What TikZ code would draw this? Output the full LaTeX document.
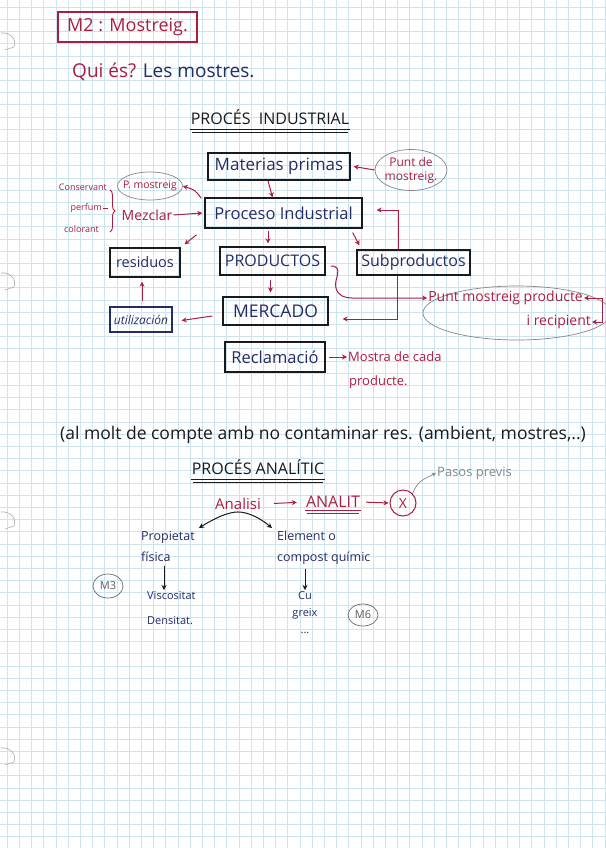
\documentclass[tikz,border=0pt]{standalone}
\usepackage{fontspec}
\setmainfont{Open Sans}
\usetikzlibrary{arrows.meta,shapes.geometric,calc,decorations.pathreplacing}
\definecolor{inkred}{RGB}{170,30,65}
\definecolor{inkblue}{RGB}{35,45,100}
\definecolor{inkblack}{RGB}{25,25,30}
\definecolor{pencil}{RGB}{135,135,135}
\definecolor{gridc}{RGB}{205,227,238}
\newcommand{\fsz}[2]{\fontsize{#1}{#2}\selectfont}
\begin{document}
\begin{tikzpicture}[x=1pt,y=-1pt,
  ibox/.style={draw=inkblack, line width=1.3pt, inner sep=0pt, text=inkblue, font=\fsz{16.5}{19}},
  redtxt/.style={text=inkred, inner sep=1pt},
  bluetxt/.style={text=inkblue, inner sep=1pt},
  rarr/.style={draw=inkred, line width=1pt, -{Stealth[length=5pt,width=5pt]}},
  karr/.style={draw=inkblack, line width=1pt, -{Stealth[length=5pt,width=5pt]}},
  parr/.style={draw=pencil, line width=0.7pt, -{Stealth[length=4pt,width=4pt]}},
  pell/.style={ellipse, draw=pencil, line width=0.7pt, inner sep=0pt},
]
\fill[white] (0,0) rectangle (605,848);
\useasboundingbox (0,0) rectangle (605,848);
\foreach \i in {0,...,49} {\draw[gridc, line width=0.5pt] ({7+12.2*\i},0) -- ({7+12.2*\i},848);}
\foreach \j in {0,...,68} {\draw[gridc, line width=0.5pt] (0,{7+12.2*\j}) -- (605,{7+12.2*\j});}
% punch-hole marks
\foreach \yy in {33,273,512,748} {
  \draw[pencil!70, line width=0.6pt] (1,\yy) .. controls (10,{\yy-1}) and (17,{\yy+6}) .. (14,{\yy+14}) -- (5,{\yy+17});
}

% title
\node[draw=inkred, line width=1.1pt, minimum width=139pt, minimum height=30pt, text=inkred, font=\fsz{18}{20}] (title) at (127.5,27) {M2 : Mostreig.};
\node[anchor=west, font=\fsz{19}{22}, inner sep=0pt] (qui) at (72,72) {\textcolor{inkred}{Qui és?} \textcolor{inkblue}{Les mostres.}};

% PROCES INDUSTRIAL
\node[font=\fsz{16}{18}, text=inkblack, inner sep=0pt] (pi) at (270,117) {PROCÉS\ \ INDUSTRIAL};
\draw[inkblack, line width=0.9pt] ($(pi.south west)+(-1,5)$) -- ($(pi.south east)+(1,5)$);
\draw[inkblack, line width=0.9pt] ($(pi.south west)+(1,8)$) -- ($(pi.south east)+(-1,8)$);

% boxes
\node[ibox, minimum width=142pt, minimum height=27pt, font=\fsz{17}{19}] (mat) at (279,166.5) {Materias primas};
\node[ibox, minimum width=157pt, minimum height=30pt] (proc) at (283.5,213) {Proceso Industrial};
\node[ibox, minimum width=70pt, minimum height=29pt, font=\fsz{14.5}{17}] (res) at (145,262.5) {residuos};
\node[ibox, minimum width=105pt, minimum height=28pt, font=\fsz{16}{18}] (prod) at (272.5,261) {PRODUCTOS};
\node[ibox, minimum width=113pt, minimum height=25pt, font=\fsz{16}{18}] (sub) at (413.5,262.5) {Subproductos};
\node[ibox, minimum width=105pt, minimum height=28pt, font=\fsz{17.5}{19}] (merc) at (275.5,311) {MERCADO};
\node[ibox, draw=inkblue, minimum width=62pt, minimum height=25pt, font=\fsz{12}{14}\itshape] (util) at (141,319.5) {utilización};
\node[ibox, minimum width=100pt, minimum height=30pt] (recl) at (275,357) {Reclamació};

% annotations
\node[pell, minimum width=72pt, minimum height=41pt] (pdm) at (411,170) {};
\node[redtxt, align=center, font=\fsz{12}{14}] (pdmt) at (411,170) {Punt de\\mostreig.};
\draw[rarr] (pdm.west) -- ([xshift=3pt]mat.east);

\node[pell, minimum width=65pt, minimum height=28pt] (pm) at (150,186) {};
\node[redtxt, font=\fsz{10.5}{12}] (pmt) at (150,186) {P. mostreig};
\draw[rarr] ($(proc.north west)+(-3,1)$) .. controls (195,190) .. (pm.east);

\node[redtxt, font=\fsz{14}{16}] (mez) at (147,215) {Mezclar};
\draw[rarr] (mez.east) -- ([xshift=-2pt]proc.west);
\node[redtxt, font=\fsz{9}{11}, anchor=east] (c1) at (108,187) {Conservant};
\node[redtxt, font=\fsz{9}{11}, anchor=east] (c2) at (103,208) {perfum};
\node[redtxt, font=\fsz{9}{11}, anchor=east] (c3) at (100,229) {colorant};
\draw[inkred, line width=0.9pt] (c2.east) -- ++(5,0);
\draw[inkred, line width=0.9pt, decorate, decoration={brace, amplitude=5pt}] (110,190) -- (110,232);

% arrows of the industrial process
\draw[rarr] ([xshift=-11pt]mat.south) -- ([xshift=-11pt]proc.north);
\draw[rarr, shorten <=2pt, shorten >=3pt] ([xshift=-15.5pt]proc.south) -- ([xshift=-4.5pt]prod.north);
\draw[rarr, shorten <=10pt, shorten >=5pt] (proc.south west) -- (res.north east);
\draw[rarr] ($(proc.south east)+(-10,4)$) -- ($(sub.north west)+(3,-4)$);
\draw[rarr] ($(sub.north)+(-15,0)$) |- ($(proc.east)+(14,-3)$);
\draw[rarr, shorten <=4pt, shorten >=4pt] ([xshift=-2pt]prod.south) -- ([xshift=-5pt]merc.north);
\draw[rarr] ($(merc.west)+(-10,5)$) -- ($(util.east)+(9,1)$);
\draw[rarr, shorten <=5pt, shorten >=4pt] ([xshift=1pt]util.north) -- ([xshift=-3pt]res.south);

% punt mostreig producte
\draw[pencil, line width=0.7pt] (517,313) ellipse (94 and 27);
\node[redtxt, font=\fsz{14}{16}, anchor=east] (pmp1) at (584,298) {Punt mostreig producte};
\node[redtxt, font=\fsz{14}{16}, anchor=east] (pmp2) at (592,322) {i recipient};
\draw[rarr] ($(prod.east)+(5,5)$) .. controls (345,266) and (333,280) .. (336,288)
  .. controls (338,296) and (345,298) .. (352,298) -- (pmp1.west);
\draw[rarr] ($(sub.south)+(-16,0)$) |- ($(merc.east)+(14,8)$);
\draw[draw=inkred, line width=1pt, {Stealth[length=5pt,width=5pt]}-{Stealth[length=5pt,width=5pt]}]
  (pmp1.east) -- ++(18,0) |- (pmp2.east);

% reclamacio
\node[redtxt, font=\fsz{13}{15}, anchor=west] (mos1) at (347,357) {Mostra de cada};
\node[redtxt, font=\fsz{13}{15}, anchor=west] (mos2) at (348,382) {producte.};
\draw[rarr] ([xshift=3pt]recl.east) -- (mos1.west);

% comment
\node[font=\fsz{17.5}{20}, text=inkblack, anchor=west, inner sep=0pt] (com) at (60,435)
  {(al molt de compte amb no contaminar res. (ambient, mostres,..)};

% PROCES ANALITIC
\node[font=\fsz{16}{18}, text=inkblack, inner sep=0pt] (pa) at (258,467) {PROCÉS ANALÍTIC};
\draw[inkblack, line width=0.9pt] ($(pa.south west)+(-1,5)$) -- ($(pa.south east)+(1,5)$);
\draw[inkblack, line width=0.9pt] ($(pa.south west)+(1,8)$) -- ($(pa.south east)+(-1,8)$);

\node[redtxt, font=\fsz{15}{17}] (ana) at (238,504) {Analisi};
\node[redtxt, font=\fsz{16}{18}] (analit) at (333,502) {ANALIT};
\draw[inkred, line width=1pt] ($(analit.south west)+(0,2)$) -- ($(analit.south east)+(0,2)$);
\draw[inkred, line width=1pt] ($(analit.south west)+(2,5)$) -- ($(analit.south east)+(-2,5)$);
\node[circle, draw=inkred, line width=1pt, minimum size=26pt, inner sep=0pt, text=inkred, font=\fsz{14}{16}] (xc) at (403,503) {X};
\draw[rarr, shorten <=12pt, shorten >=8pt] (ana.east) -- (analit.west);
\draw[rarr, shorten <=5pt, shorten >=1pt] (analit.east) -- (xc.west);
\node[text=pencil, font=\fsz{13}{15}, anchor=west, inner sep=1pt] (pp) at (436,473) {Pasos previs};
\draw[parr] (xc.north east) .. controls (418,482) .. (pp.west);

\node[bluetxt, font=\fsz{12.5}{21}, align=left, anchor=north west] (prop) at (140,530) {Propietat\\física};
\node[bluetxt, font=\fsz{12.5}{21}, align=left, anchor=north west] (elem) at (276,530) {Element o\\compost químic};
\draw[karr] ($(ana.south)+(0,1)$) .. controls (228,512) and (215,518) .. ($(prop.north east)+(3,-2)$);
\draw[karr] ($(ana.south)+(0,1)$) .. controls (248,512) and (260,518) .. ($(elem.north west)+(-4,-2)$);

\node[bluetxt, font=\fsz{11}{25}, align=left, anchor=north west] (visc) at (146,590) {Viscositat\\Densitat.};
\node[bluetxt, font=\fsz{11}{17}, align=center, anchor=north] (cu) at (305,590) {Cu\\greix\\...};
\draw[karr, shorten <=3pt] ([xshift=24pt]prop.south west) -- ([xshift=18pt]visc.north west);
\draw[karr, shorten <=3pt] ([xshift=29pt]elem.south west) -- (cu.north);

\node[pell, draw=inkblack!65, minimum width=30pt, minimum height=24pt, text=inkblack!70, font=\fsz{11}{13}] (m3) at (108,586) {M3};
\node[pell, draw=inkblack!65, minimum width=30pt, minimum height=22pt, text=inkblack!70, font=\fsz{11}{13}] (m6) at (363,615) {M6};
\end{tikzpicture}
\end{document}
